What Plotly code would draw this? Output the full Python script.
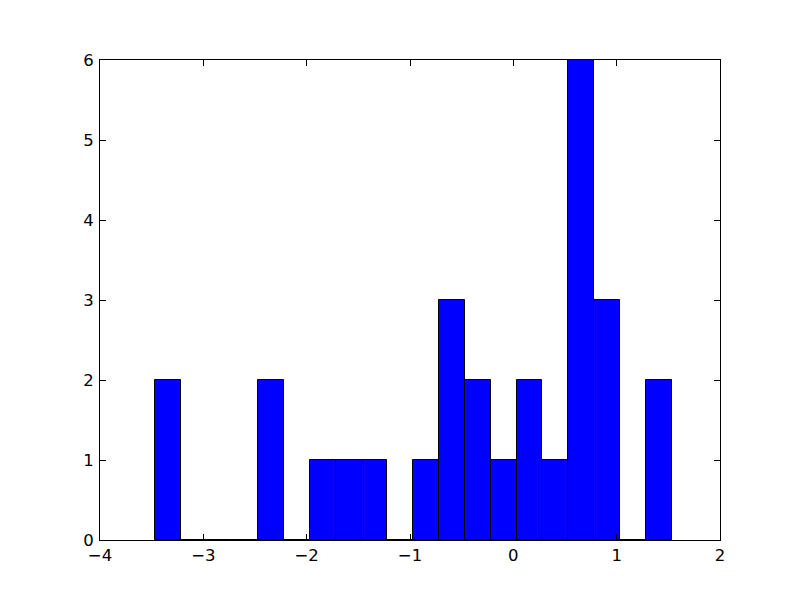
import plotly.graph_objects as go

# Histogram data
bin_start = -3.468
bin_width = 0.25
counts = [2, 0, 0, 0, 2, 0, 1, 1, 1, 0, 1, 3, 2, 1, 2, 1, 6, 3, 0, 2]

x_ticks = [-4, -3, -2, -1, 0, 1, 2]
y_ticks = [0, 1, 2, 3, 4, 5, 6]

centers = [bin_start + bin_width * (i + 0.5) for i in range(len(counts))]

fig = go.Figure(
    go.Bar(
        x=centers,
        y=counts,
        width=[bin_width] * len(counts),
        marker=dict(color="#0000ff", line=dict(color="black", width=1)),
    )
)

axis_common = dict(
    showgrid=False,
    zeroline=False,
    showline=True,
    linecolor="black",
    linewidth=1,
    mirror="allticks",
    ticks="inside",
    ticklen=6,
    tickcolor="black",
    tickfont=dict(family="DejaVu Sans", size=16.5, color="black"),
)

fig.update_xaxes(range=[-4, 2], tickvals=x_ticks, **axis_common)
fig.update_yaxes(range=[0, 6], tickvals=y_ticks, ticklabelstandoff=2, **axis_common)

fig.update_layout(
    width=792,
    height=592,
    margin=dict(l=92, r=80, t=52, b=60),
    paper_bgcolor="white",
    plot_bgcolor="white",
    showlegend=False,
    bargap=0,
)

fig.write_html("out.html")
